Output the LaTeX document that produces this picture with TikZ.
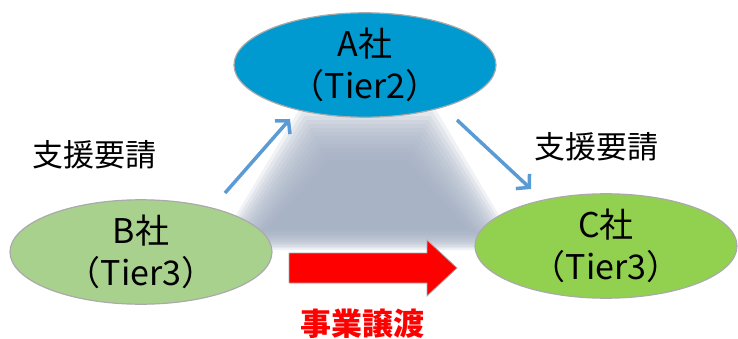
\documentclass[tikz,border=0pt]{standalone}
\usepackage{fontspec}
\setmainfont{Noto Sans CJK JP}
\usetikzlibrary{shapes.geometric,arrows.meta}
\definecolor{aBlue}{RGB}{0,153,208}
\definecolor{bGreen}{RGB}{169,209,142}
\definecolor{cGreen}{RGB}{146,208,80}
\definecolor{edgeGray}{RGB}{170,170,170}
\definecolor{arrBlue}{RGB}{91,155,213}
\definecolor{shadowGray}{RGB}{160,172,192}
\definecolor{redArrow}{RGB}{255,0,0}
\tikzset{
  company/.style={ellipse, draw=edgeGray, line width=1.2pt, minimum width=262pt, minimum height=104pt, inner sep=0pt, align=center, font=\fontsize{34}{42}\selectfont},
  reqarrow/.style={draw=arrBlue, line width=3.5pt, -{Straight Barb[length=9pt,width=20pt,line width=3.5pt]}},
  label/.style={font=\fontsize{31}{34}\selectfont, inner sep=0pt},
}
\begin{document}
\begin{tikzpicture}[x=1pt,y=-1pt]
\useasboundingbox (0,0) rectangle (738,339);
% blurred shadow
\foreach \i in {0,...,13}{
  \pgfmathsetmacro{\d}{4*\i}
  \fill[shadowGray, opacity=0.16]
    (300+0.55*\d,108+\d) -- (435-0.55*\d,108+\d) -- (520-\d,250-0.4*\d) -- (215+\d,250-0.4*\d) -- cycle;
}
% companies
\node[company, fill=aBlue] (A) at (365,65) {A社\\（Tier2）};
\node[company, fill=bGreen] (B) at (141,252) {B社\\（Tier3）};
\node[company, fill=cGreen] (C) at (606,246) {C社\\（Tier3）};
% request arrows
\coordinate (b1) at (225,193);
\coordinate (a1) at (290,119);
\coordinate (a2) at (457,120);
\coordinate (c1) at (531,189);
\draw[reqarrow] (b1) -- (a1);
\draw[reqarrow] (a2) -- (c1);
\node[label] (reqL) at (94,155) {支援要請};
\node[label] (reqR) at (596,147) {支援要請};
% transfer arrow
\fill[redArrow, draw=edgeGray, line width=0.8pt]
  (289,253) -- (427,253) -- (427,240) -- (457,268) -- (427,296) -- (427,283) -- (289,283) -- cycle;
\node[label, text=redArrow, font=\bfseries\fontsize{31}{34}\selectfont] (xfer) at (362,324) {事業譲渡};
\end{tikzpicture}
\end{document}
